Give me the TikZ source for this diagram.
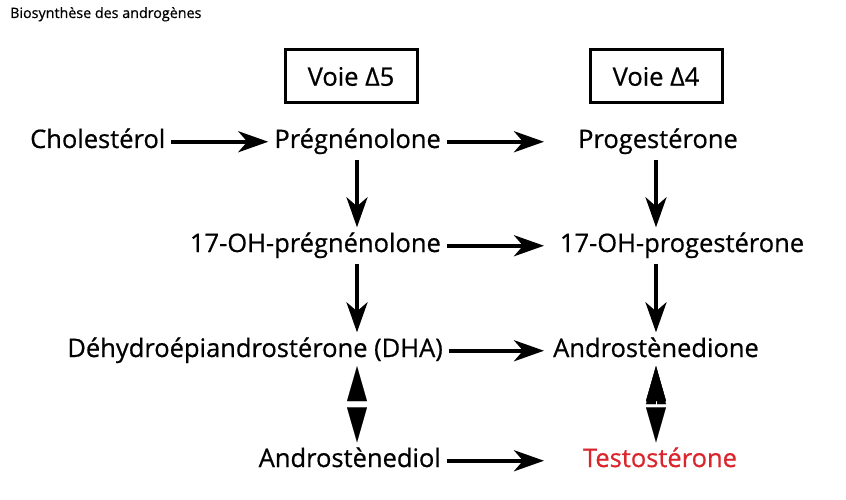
\documentclass[tikz,border=0pt]{standalone}
\usepackage{fontspec}
\setmainfont{Open Sans}[FakeBold=0.6]
\usetikzlibrary{arrows.meta}
\definecolor{rougetesto}{RGB}{218,37,45}

\begin{document}
\begin{tikzpicture}[x=1pt,y=-1pt,
    mol/.style={font=\fontsize{25.5}{30}\selectfont, inner sep=3pt, text height=18.5pt, text depth=6pt},
    voie/.style={draw, line width=3pt, minimum width=132pt, minimum height=53pt, font=\fontsize{25.5}{30}\selectfont},
    fl/.style={line width=4pt, -{Stealth[length=30pt,width=21pt,inset=9pt]}, shorten <=2.5pt, shorten >=3pt},
    dfl/.style={line width=0.1pt, draw=white, {Stealth[length=35pt,width=20pt,inset=0pt,black]}-{Stealth[length=35pt,width=20pt,inset=0pt,black]}, shorten <=0pt, shorten >=3pt}]
    \useasboundingbox (0,0) rectangle (846,500);
    %title
    \node[anchor=base west, inner sep=3pt, font=\fontsize{14.3}{17}\selectfont] (titre) at (7,18) {Biosynthèse des androgènes};
    %boxes
    \node[voie] (v5) at (351,76.5) {Voie Δ5};
    \node[voie] (v4) at (656,76.5) {Voie Δ4};
    %columns
    \coordinate (c5) at (357,0);
    \coordinate (c4) at (656,0);
    \coordinate (tip) at (547,0);
    %states
    \node[mol, anchor=base west] (chol) at (27,148) {Cholestérol};
    \node[mol, anchor=base east] (preg) at (444,148) {Prégnénolone};
    \node[mol, anchor=base east] (preg17) at (444,252) {17-OH-prégnénolone};
    \node[mol, anchor=base east] (dha) at (446,357) {Déhydroépiandrostérone (DHA)};
    \node[mol, anchor=base east] (diol) at (444,467) {Androstènediol};
    \node[mol, anchor=base] (prog) at (658,148) {Progestérone};
    \node[mol, anchor=base] (prog17) at (682,252) {17-OH-progestérone};
    \node[mol, anchor=base] (dione) at (656,357) {Androstènedione};
    \node[mol, anchor=base, text=rougetesto] (testo) at (660,467) {Testostérone};
    %edges
    \path[fl]
     (chol) edge (preg)
     (preg.east) edge (preg.east -| tip)
     (preg17.east) edge (preg17.east -| tip)
     (dha.east) edge (dha.east -| tip)
     (diol.east) edge (diol.east -| tip)
     (c5 |- preg.south) edge (c5 |- preg17.north)
     (c5 |- preg17.south) edge (c5 |- dha.north)
     (c4 |- prog.south) edge (c4 |- prog17.north)
     (c4 |- prog17.south) edge (c4 |- dione.north);
    \path[dfl]
     (c5 |- dha.south) edge (c5 |- diol.north)
     (c4 |- dione.south) edge (c4 |- testo.north);
\end{tikzpicture}
\end{document}
